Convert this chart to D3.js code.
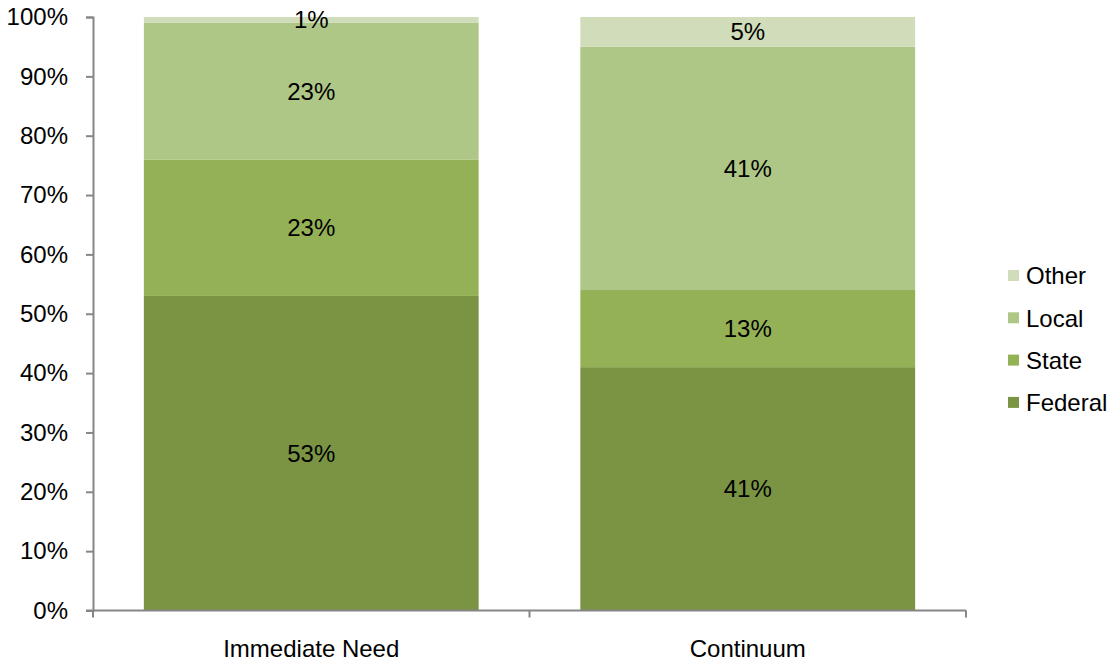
<!DOCTYPE html>
<html>
<head>
<meta charset="utf-8">
<script src="https://cdn.jsdelivr.net/npm/d3@7"></script>
<style>
  html, body { margin: 0; padding: 0; background: #fff; }
  svg { display: block; font-family: "Liberation Sans", Arial, sans-serif; }
</style>
</head>
<body>
<svg id="chart" width="1116" height="663"></svg>
<script>
// Funding sources by program type (share of total, %)
const categories = ["Immediate Need", "Continuum"];
const sources = ["Federal", "State", "Local", "Other"];
const federal = [53, 41];
const state = [23, 13];
const local = [23, 41];
const other = [1, 5];
const yTicks = [0, 10, 20, 30, 40, 50, 60, 70, 80, 90, 100];

const colors = {
  Federal: "#7A9443",
  State: "#95B156",
  Local: "#AEC686",
  Other: "#D0DCBA"
};

const fontSize = 24;

const rows = categories.map((c, i) => ({
  category: c,
  Federal: federal[i],
  State: state[i],
  Local: local[i],
  Other: other[i]
}));

const svg = d3.select("#chart");
const margin = { left: 93, right: 150, top: 17, bottom: 52 };
const width = 1116, height = 663;

const x = d3.scaleBand()
  .domain(categories)
  .range([margin.left, width - margin.right])
  .paddingInner(0.233)
  .paddingOuter(0.1165);

const y = d3.scaleLinear()
  .domain([0, 100])
  .range([height - margin.bottom - 0.5, margin.top]);

const stack = d3.stack().keys(sources);
const series = stack(rows);

// Stacked bars
const g = svg.append("g");
g.selectAll("g.series")
  .data(series)
  .join("g")
  .attr("class", "series")
  .attr("fill", d => colors[d.key])
  .selectAll("rect")
  .data(d => d)
  .join("rect")
  .attr("x", d => x(d.data.category))
  .attr("width", x.bandwidth())
  .attr("y", d => y(d[1]))
  .attr("height", d => y(d[0]) - y(d[1]));

// Segment value labels
g.selectAll("g.labels")
  .data(series)
  .join("g")
  .attr("class", "labels")
  .selectAll("text")
  .data(d => d.map(v => ({ v, key: d.key })))
  .join("text")
  .attr("x", d => x(d.v.data.category) + x.bandwidth() / 2)
  .attr("y", d => (y(d.v[0]) + y(d.v[1])) / 2)
  .attr("dy", "0.35em")
  .attr("text-anchor", "middle")
  .attr("font-size", fontSize)
  .attr("fill", "#000")
  .text(d => d.v.data[d.key] + "%");

// Y axis
const axisColor = "#868686";
const yAxis = svg.append("g")
  .attr("transform", `translate(${margin.left},0)`)
  .call(d3.axisLeft(y).tickValues(yTicks).tickFormat(d => d + "%").tickSize(7).tickPadding(18));
yAxis.select(".domain").attr("stroke", axisColor).attr("stroke-width", 2);
yAxis.selectAll(".tick line").attr("stroke", axisColor).attr("stroke-width", 2);
yAxis.selectAll(".tick text")
  .attr("font-size", fontSize)
  .attr("fill", "#000")
  .attr("font-family", "Liberation Sans, Arial, sans-serif");

// X axis with boundary tick marks between categories
const y0 = y(0);
const xg = svg.append("g");
xg.append("line")
  .attr("x1", margin.left - 7).attr("x2", width - margin.right)
  .attr("y1", y0).attr("y2", y0)
  .attr("stroke", axisColor).attr("stroke-width", 2);
const step = x.step();
const boundaries = d3.range(categories.length + 1).map(i => margin.left + i * step);
xg.selectAll("line.b")
  .data(boundaries)
  .join("line")
  .attr("class", "b")
  .attr("x1", d => d).attr("x2", d => d)
  .attr("y1", y0).attr("y2", y0 + 7)
  .attr("stroke", axisColor).attr("stroke-width", 2);
xg.selectAll("text")
  .data(categories)
  .join("text")
  .attr("x", d => x(d) + x.bandwidth() / 2)
  .attr("y", y0 + 46.5)
  .attr("text-anchor", "middle")
  .attr("font-size", fontSize)
  .attr("fill", "#000")
  .text(d => d);

// Legend (top to bottom: Other, Local, State, Federal)
const legendKeys = sources.slice().reverse();
const legend = svg.append("g").attr("transform", "translate(1008,276)");
const li = legend.selectAll("g")
  .data(legendKeys)
  .join("g")
  .attr("transform", (d, i) => `translate(0,${i * 42.3})`);
li.append("rect")
  .attr("x", 0).attr("y", -6)
  .attr("width", 11).attr("height", 11)
  .attr("fill", d => colors[d]);
li.append("text")
  .attr("x", 18).attr("y", 0)
  .attr("dy", "0.35em")
  .attr("font-size", fontSize)
  .attr("fill", "#000")
  .text(d => d);
</script>
</body>
</html>
